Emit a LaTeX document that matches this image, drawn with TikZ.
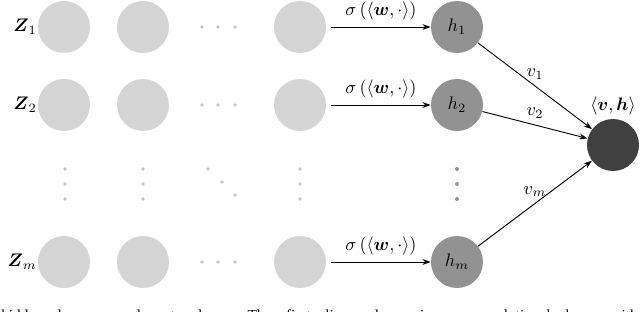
\documentclass[tikz,border=0pt]{standalone}
\usepackage{amsmath}
\usepackage{fontspec}
\newfontfamily\capfont{Liberation Serif}
\usetikzlibrary{arrows.meta}
\definecolor{lightc}{HTML}{D4D4D4}
\definecolor{dotc}{HTML}{C4C4C4}
\definecolor{hidc}{HTML}{929292}
\definecolor{hdotc}{HTML}{959595}
\definecolor{outc}{HTML}{404040}
\tikzset{
  inp/.style={circle, fill=lightc, minimum size=28.6pt, inner sep=0pt},
  hid/.style={circle, fill=hidc, minimum size=28.6pt, inner sep=0pt},
  outn/.style={circle, fill=outc, minimum size=28.6pt, inner sep=0pt},
  dotn/.style={circle, fill=dotc, minimum size=2pt, inner sep=0pt},
  hdotn/.style={circle, fill=hdotc, minimum size=2.2pt, inner sep=0pt},
  arr/.style={-{Stealth[length=4.5pt,width=3.2pt]}, line width=0.5pt},
  zlab/.style={anchor=east, inner sep=0.5pt},
}
\begin{document}
\begin{tikzpicture}[x=0.55pt, y=-0.55pt]
\useasboundingbox (0,0) rectangle (640,312);
% input rows
\foreach \r/\y in {1/27, 2/105, m/262} {
  \node[inp] (a\r) at (64,\y) {};
  \node[inp] (b\r) at (143,\y) {};
  \node[inp] (c\r) at (300,\y) {};
  \node[dotn] (p\r1) at (202,\y) {};
  \node[dotn] (p\r2) at (218,\y) {};
  \node[dotn] (p\r3) at (235,\y) {};
}
\node[zlab] (z1) at (38,27) {$\boldsymbol{Z}_1$};
\node[zlab] (z2) at (38,105) {$\boldsymbol{Z}_2$};
\node[zlab] (zm) at (38,262) {$\boldsymbol{Z}_m$};
% vertical dots
\foreach \n/\x in {a/65, b/143, c/300} {
  \node[dotn] (v\n1) at (\x,169) {};
  \node[dotn] (v\n2) at (\x,184) {};
  \node[dotn] (v\n3) at (\x,199) {};
}
\node[dotn] (d1) at (208,169) {};
\node[dotn] (d2) at (222,182) {};
\node[dotn] (d3) at (235,195) {};
% hidden nodes
\node[hid] (h1) at (457,27) {$h_1$};
\node[hid] (h2) at (457,105) {$h_2$};
\node[hid] (hm) at (457,262) {$h_m$};
\node[hdotn] (hd1) at (457,169) {};
\node[hdotn] (hd2) at (457,184) {};
\node[hdotn] (hd3) at (457,199) {};
% output
\node[outn] (out) at (613,145) {};
\node (outlab) at (613,106) {$\langle \boldsymbol{v}, \boldsymbol{h}\rangle$};
% arrows
\foreach \r in {1,2,m} {
  \draw[arr] ([xshift=2.75pt]c\r.east) -- (h\r) node[midway, above] {$\sigma\left(\langle \boldsymbol{w}, \cdot \rangle\right)$};
}
\draw[arr] (h1) -- (out) node[midway, above] {$v_1$};
\draw[arr] (h2) -- (out) node[midway, above] {$v_2$};
\draw[arr] (hm) -- (out) node[midway, above] {$v_m$};
% truncated caption (only its top shows, as in the source)
\node[anchor=base west, inner sep=0pt] (cap) at (1,320.5) {\capfont\fontsize{8.4}{10}\selectfont\makebox[350pt][s]{hidden layer neural network. The first linear layer is a convolutional layer with}};
\end{tikzpicture}
\end{document}
